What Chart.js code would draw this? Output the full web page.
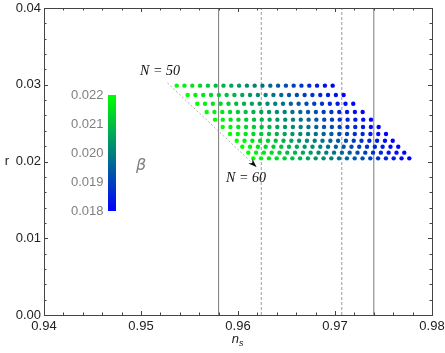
<!DOCTYPE html>
<html>
<head>
<meta charset="utf-8">
<script src="https://cdn.jsdelivr.net/npm/chart.js@4.4.0/dist/chart.umd.min.js"></script>
<style>
  html, body { margin: 0; padding: 0; background: #fff; }
  #chart { display: block; }
</style>
</head>
<body>
<canvas id="chart" width="445" height="353"></canvas>
<script>
// one row of points per N (e-folds), columns are beta from 0.022 down to 0.018
const nValues = [50, 51, 52, 53, 54, 55, 56, 57, 58, 59, 60];
const rValues = [0.02988, 0.02866, 0.02753, 0.02645, 0.02545, 0.02450, 0.02358, 0.02271, 0.02193, 0.02115, 0.02041];
const betaValues = [0.0220, 0.0218, 0.0216, 0.0214, 0.0212, 0.0210, 0.0208, 0.0206, 0.0204, 0.0202, 0.0200,
                    0.0198, 0.0196, 0.0194, 0.0192, 0.0190, 0.0188, 0.0186, 0.0184, 0.0182, 0.0180];
const nsRows = [
  [0.95368, 0.95448, 0.95529, 0.95609, 0.95690, 0.95770, 0.95850, 0.95931, 0.96011, 0.96092, 0.96172, 0.96252, 0.96333, 0.96413, 0.96494, 0.96574, 0.96654, 0.96735, 0.96815, 0.96896, 0.96976],
  [0.95481, 0.95561, 0.95642, 0.95722, 0.95803, 0.95883, 0.95963, 0.96044, 0.96124, 0.96205, 0.96285, 0.96365, 0.96446, 0.96526, 0.96607, 0.96687, 0.96767, 0.96848, 0.96928, 0.97009, 0.97089],
  [0.95580, 0.95660, 0.95741, 0.95821, 0.95902, 0.95982, 0.96062, 0.96143, 0.96223, 0.96304, 0.96384, 0.96464, 0.96545, 0.96625, 0.96706, 0.96786, 0.96866, 0.96947, 0.97027, 0.97108, 0.97188],
  [0.95677, 0.95757, 0.95838, 0.95918, 0.95999, 0.96079, 0.96159, 0.96240, 0.96320, 0.96401, 0.96481, 0.96561, 0.96642, 0.96722, 0.96803, 0.96883, 0.96963, 0.97044, 0.97124, 0.97205, 0.97285],
  [0.95763, 0.95843, 0.95924, 0.96004, 0.96085, 0.96165, 0.96245, 0.96326, 0.96406, 0.96487, 0.96567, 0.96647, 0.96728, 0.96808, 0.96889, 0.96969, 0.97049, 0.97130, 0.97210, 0.97291, 0.97371],
  [0.95842, 0.95922, 0.96003, 0.96083, 0.96164, 0.96244, 0.96324, 0.96405, 0.96485, 0.96566, 0.96646, 0.96726, 0.96807, 0.96887, 0.96968, 0.97048, 0.97128, 0.97209, 0.97289, 0.97370, 0.97450],
  [0.95918, 0.95998, 0.96079, 0.96159, 0.96240, 0.96320, 0.96400, 0.96481, 0.96561, 0.96642, 0.96722, 0.96802, 0.96883, 0.96963, 0.97044, 0.97124, 0.97204, 0.97285, 0.97365, 0.97446, 0.97526],
  [0.95987, 0.96067, 0.96148, 0.96228, 0.96309, 0.96389, 0.96469, 0.96550, 0.96630, 0.96711, 0.96791, 0.96871, 0.96952, 0.97032, 0.97113, 0.97193, 0.97273, 0.97354, 0.97434, 0.97515, 0.97595],
  [0.96044, 0.96124, 0.96205, 0.96285, 0.96366, 0.96446, 0.96526, 0.96607, 0.96687, 0.96768, 0.96848, 0.96928, 0.97009, 0.97089, 0.97170, 0.97250, 0.97330, 0.97411, 0.97491, 0.97572, 0.97652],
  [0.96106, 0.96186, 0.96267, 0.96347, 0.96428, 0.96508, 0.96588, 0.96669, 0.96749, 0.96830, 0.96910, 0.96990, 0.97071, 0.97151, 0.97232, 0.97312, 0.97392, 0.97473, 0.97553, 0.97634, 0.97714],
  [0.96158, 0.96238, 0.96319, 0.96399, 0.96480, 0.96560, 0.96640, 0.96721, 0.96801, 0.96882, 0.96962, 0.97042, 0.97123, 0.97203, 0.97284, 0.97364, 0.97444, 0.97525, 0.97605, 0.97686, 0.97766]
];

// observational bounds on n_s
const nsSolidLines = [0.958, 0.974];
const nsDashedLines = [0.9624, 0.9707];

// arrow from N = 50 to N = 60
const arrowStart = [0.95273, 0.03023];
const arrowEnd = [0.96191, 0.01928];

const betaTicks = [0.022, 0.021, 0.020, 0.019, 0.018];
const betaMin = 0.018, betaMax = 0.022;

function betaColor(b) {
  let t = (b - betaMin) / (betaMax - betaMin);
  return "rgb(0," + Math.round(255 * t) + "," + Math.round(255 * (1 - t)) + ")";
}

let datasets = [];

nValues.forEach(function (n, i) {
  datasets.push({
    type: "scatter",
    label: "N = " + n,
    data: nsRows[i].map(function (ns) { return { x: ns, y: rValues[i] }; }),
    pointBackgroundColor: betaValues.map(betaColor),
    pointBorderWidth: 0,
    pointRadius: 2.2,
    order: 1
  });
});

nsSolidLines.forEach(function (v) {
  datasets.push({
    type: "line",
    data: [{ x: v, y: 0 }, { x: v, y: 0.04 }],
    borderColor: "#7a7a7a",
    borderWidth: 1,
    pointRadius: 0,
    order: 3
  });
});

nsDashedLines.forEach(function (v) {
  datasets.push({
    type: "line",
    data: [{ x: v, y: 0 }, { x: v, y: 0.04 }],
    borderColor: "#9a9a9a",
    borderWidth: 1,
    borderDash: [3, 2],
    pointRadius: 0,
    order: 3
  });
});

datasets.push({
  type: "line",
  label: "arrow",
  data: [{ x: arrowStart[0], y: arrowStart[1] }, { x: arrowEnd[0], y: arrowEnd[1] }],
  borderColor: "#b0b0b0",
  borderWidth: 1,
  borderDash: [2, 2],
  pointRadius: 0,
  order: 2
});

const decor = {
  id: "decor",
  afterDatasetsDraw(chart) {
    let ctx = chart.ctx;
    let xs = chart.scales.x, ys = chart.scales.y;
    let a = chart.chartArea;
    ctx.save();

    // frame
    ctx.strokeStyle = "#444";
    ctx.lineWidth = 1;
    ctx.strokeRect(Math.round(a.left) + 0.5, Math.round(a.top) + 0.5, Math.round(a.right - a.left), Math.round(a.bottom - a.top));

    // ticks on all sides, pointing in
    ctx.beginPath();
    for (let k = 0; k <= 20; k++) {
      let v = 0.94 + k * 0.002;
      let px = Math.round(xs.getPixelForValue(v)) + 0.5;
      let len = k % 5 === 0 ? 4 : 2.5;
      ctx.moveTo(px, a.bottom); ctx.lineTo(px, a.bottom - len);
      ctx.moveTo(px, a.top); ctx.lineTo(px, a.top + len);
    }
    for (let k = 0; k <= 20; k++) {
      let v = k * 0.002;
      let py = Math.round(ys.getPixelForValue(v)) + 0.5;
      let len = k % 5 === 0 ? 4 : 2.5;
      ctx.moveTo(a.left, py); ctx.lineTo(a.left + len, py);
      ctx.moveTo(a.right, py); ctx.lineTo(a.right - len, py);
    }
    ctx.strokeStyle = "#444";
    ctx.stroke();

    // arrowhead
    let x0 = xs.getPixelForValue(arrowStart[0]), y0 = ys.getPixelForValue(arrowStart[1]);
    let x1 = xs.getPixelForValue(arrowEnd[0]), y1 = ys.getPixelForValue(arrowEnd[1]);
    let ang = Math.atan2(y1 - y0, x1 - x0);
    ctx.fillStyle = "#111";
    ctx.beginPath();
    ctx.moveTo(x1, y1);
    ctx.lineTo(x1 - 9 * Math.cos(ang - 0.35), y1 - 9 * Math.sin(ang - 0.35));
    ctx.lineTo(x1 - 6 * Math.cos(ang), y1 - 6 * Math.sin(ang));
    ctx.lineTo(x1 - 9 * Math.cos(ang + 0.35), y1 - 9 * Math.sin(ang + 0.35));
    ctx.closePath();
    ctx.fill();

    // N labels
    ctx.font = "italic 14px 'Liberation Serif'";
    ctx.fillStyle = "#111";
    ctx.textAlign = "center";
    ctx.textBaseline = "middle";
    ctx.fillText("N = 50", 160, 71);
    ctx.fillText("N = 60", 246, 178);

    // colour bar for beta
    let cbLeft = 108, cbRight = 116, cbTop = 95, cbBottom = 211;
    let grad = ctx.createLinearGradient(0, cbTop, 0, cbBottom);
    grad.addColorStop(0, betaColor(betaMax));
    grad.addColorStop(1, betaColor(betaMin));
    ctx.fillStyle = grad;
    ctx.fillRect(cbLeft, cbTop, cbRight - cbLeft, cbBottom - cbTop);
    ctx.font = "13px 'Liberation Sans'";
    ctx.fillStyle = "#808080";
    ctx.textAlign = "right";
    betaTicks.forEach(function (b) {
      let py = cbBottom - (b - betaMin) / (betaMax - betaMin) * (cbBottom - cbTop);
      ctx.fillText(b.toFixed(3), 103.5, py);
    });
    ctx.font = "italic 16px 'DejaVu Sans'";
    ctx.textAlign = "center";
    ctx.fillText("\u03B2", 141, 166);

    // axis titles
    ctx.fillStyle = "#222";
    ctx.font = "13px 'Liberation Sans'";
    ctx.fillText("r", 7, ys.getPixelForValue(0.02));
    let cx = (a.left + a.right) / 2;
    ctx.font = "italic 13px 'Liberation Sans'";
    ctx.textAlign = "right";
    ctx.textBaseline = "alphabetic";
    ctx.fillText("n", cx + 1, 343);
    ctx.font = "italic 9px 'Liberation Sans'";
    ctx.textAlign = "left";
    ctx.fillText("s", cx + 1, 346);

    ctx.restore();
  }
};

new Chart(document.getElementById("chart"), {
  data: { datasets: datasets },
  options: {
    responsive: false,
    animation: false,
    layout: { padding: { top: 8, right: 13, left: 0, bottom: 0 } },
    plugins: { legend: { display: false }, tooltip: { enabled: false } },
    scales: {
      x: {
        type: "linear",
        min: 0.94,
        max: 0.98,
        grid: { display: false, drawTicks: false },
        border: { display: false },
        ticks: {
          stepSize: 0.01,
          padding: 4,
          color: "#222",
          font: { family: "Liberation Sans", size: 13 },
          maxRotation: 0,
          callback: function (v) { return v.toFixed(2); }
        },
        afterFit: function (s) { s.height = 38; s.paddingLeft = 0; s.paddingRight = 0; }
      },
      y: {
        type: "linear",
        min: 0,
        max: 0.04,
        grid: { display: false, drawTicks: false },
        border: { display: false },
        ticks: {
          stepSize: 0.01,
          padding: 3,
          color: "#222",
          font: { family: "Liberation Sans", size: 13 },
          callback: function (v) { return v.toFixed(2); }
        },
        afterFit: function (s) { s.width = 44; s.paddingTop = 0; s.paddingBottom = 0; }
      }
    }
  },
  plugins: [decor]
});
</script>
</body>
</html>
